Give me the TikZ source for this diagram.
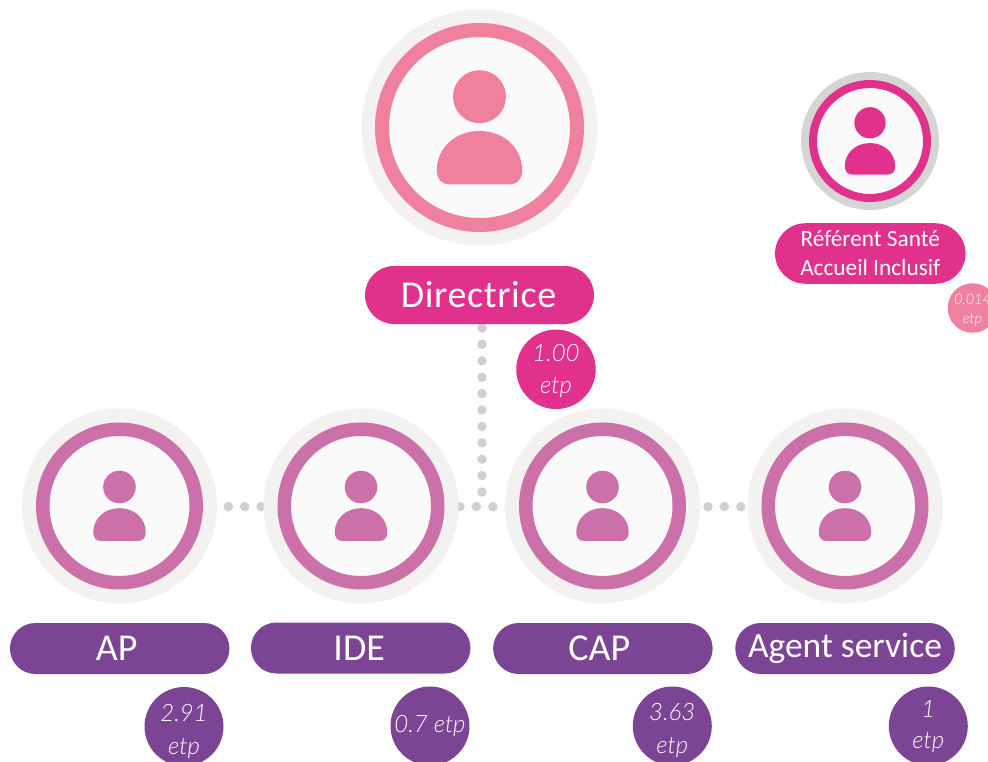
\documentclass[tikz,border=0pt]{standalone}
\usepackage{fontspec}
\setmainfont{Carlito}
\newfontfamily\etpfont{Lato}[UprightFont=* Light,ItalicFont=* Light Italic]
\newfontfamily\dirfont{Carlito}[LetterSpace=1.75]
\usetikzlibrary{shapes.misc}
\newcommand{\lowr}[2]{\raisebox{-#1pt}[\height][\depth]{#2}}
\definecolor{rosePk}{HTML}{F0819E}
\definecolor{magPk}{HTML}{E1318C}
\definecolor{purp}{HTML}{7C4494}
\definecolor{orch}{HTML}{CB70A9}
\definecolor{halo}{HTML}{F3F2F0}
\definecolor{haloDk}{HTML}{D5D5D3}
\definecolor{core}{HTML}{FAFAFA}
\definecolor{dotc}{HTML}{D0D0D0}
\tikzset{
  x=1pt,y=-1pt,
  discbase/.style={circle,inner sep=0pt,outer sep=0pt},
  haloB/.style={discbase,fill=halo,minimum size=236pt},
  haloM/.style={discbase,fill=halo,minimum size=195pt},
  haloS/.style={discbase,fill=haloDk,minimum size=138pt},
  ringB/.style={discbase,fill=core,draw=rosePk,line width=14pt,minimum size=195pt},
  ringM/.style={discbase,fill=core,draw=orch,line width=13.5pt,minimum size=153.5pt},
  ringS/.style={discbase,fill=core,draw=magPk,line width=8pt,minimum size=114pt},
  pill/.style={rounded rectangle,inner sep=0pt,outer sep=0pt,text=white,align=center},
  pillP/.style={pill,fill=purp,minimum width=219.5pt,minimum height=51pt,font=\fontsize{38}{40}\selectfont},
  badge/.style={discbase,text=white,align=center,font=\etpfont\itshape\fontsize{24}{33}\selectfont},
  badgeP/.style={badge,fill=purp,minimum size=79pt},
  dotline/.style={draw=dotc,line width=9.5pt,line cap=round,dash pattern=on 0pt off 16.4pt},
  person/.pic={
    \fill (0,-30.8) circle[radius=26.5];
    \fill (-42.7,43) .. controls (-42.7,20) and (-24,3.5) .. (0,3.5)
      .. controls (24,3.5) and (42.7,20) .. (42.7,43)
      .. controls (42.7,51) and (38,56.8) .. (31,56.8)
      -- (-31,56.8) .. controls (-38,56.8) and (-42.7,51) .. cycle;
  }
}
\begin{document}
\begin{tikzpicture}
\useasboundingbox (0,0) rectangle (988,762);
\clip (0,0) rectangle (988,762);
\fill[white] (0,0) rectangle (988,762);
% anchors for the dotted connectors
\coordinate (vtop) at (482,328);
\coordinate (vbot) at (482,493);
\coordinate (hA) at (228.3,506.7);
\coordinate (hB) at (460,506.7);
\coordinate (hC) at (708,506.7);
\coordinate (capC) at (602.5,506.7);
\coordinate (ideC) at (361,506.7);
\coordinate (agtC) at (845,506.7);
% connectors
\draw[dotline] (vtop) -- (vbot);
\draw[dotline] (hA) -- (ideC);
\draw[dotline] (hB) -- (capC);
\draw[dotline] (hC) -- (agtC);
% top person
\node[haloB] (dirH) at (479.5,127.5) {};
\node[ringB] (dirR) at (479.5,127.5) {};
\pic[rosePk] at (dirR.center) {person};
% inclusive person
\node[haloS] (refH) at (870,141) {};
\node[ringS] (refR) at (870,141) {};
\pic[magPk,scale=.59] at (refR.center) {person};
% row
\node[haloM] (apH) at (119.5,506) {};
\node[ringM] (apR) at (119.5,506) {};
\pic[orch,scale=.615] at (apR.center) {person};
\node[haloM] (ideH) at (361,506) {};
\node[ringM] (ideR) at (361,506) {};
\pic[orch,scale=.615] at (ideR.center) {person};
\node[haloM] (capH) at (602.5,506) {};
\node[ringM] (capR) at (602.5,506) {};
\pic[orch,scale=.615] at (capR.center) {person};
\node[haloM] (agtH) at (845,506) {};
\node[ringM] (agtR) at (845,506) {};
\pic[orch,scale=.615] at (agtR.center) {person};
% pills
\node[pill,fill=magPk,minimum width=229pt,minimum height=58pt,font=\dirfont\fontsize{38}{40}\selectfont] (dirP) at (479.5,295) {\hspace*{-2pt}Directrice};
\node[pill,fill=magPk,minimum width=190.5pt,minimum height=60.5pt,font=\fontsize{23.3}{29}\selectfont] (refP) at (870.3,253.5) {Référent Santé\\Accueil Inclusif};
\node[pillP] (apP) at (119.7,648.5) {\hspace*{-6pt}AP};
\node[pillP] (ideP) at (360.7,648) {\hspace*{-3pt}IDE};
\node[pillP] (capP) at (602.9,648.5) {\hspace*{-7pt}CAP};
\node[pillP,font=\fontsize{35.5}{38}\selectfont] (agtP) at (845,648.5) {\raisebox{2pt}{Agent service}};
% badges
\node[badge,fill=magPk,minimum size=79.5pt] (dirB) at (556,369.3) {\lowr{2}{1.00}\\\lowr{1}{etp}};
\node[badge,fill=rosePk,minimum size=49pt,font=\etpfont\itshape\fontsize{14.5}{20}\selectfont] (refB) at (972.5,308) {\lowr{2.5}{0.014}\\\lowr{2}{etp}};
\node[badgeP] (apB) at (184,726.5) {\lowr{5}{2.91}\\\lowr{5}{etp}};
\node[badgeP] (ideB) at (430,726) {0.7 etp};
\node[badgeP] (capB) at (672.3,726) {\lowr{5}{3.63}\\\lowr{5}{etp}};
\node[badgeP] (agtB) at (928.3,726) {\lowr{2}{1}\\etp};
\end{tikzpicture}
\end{document}
